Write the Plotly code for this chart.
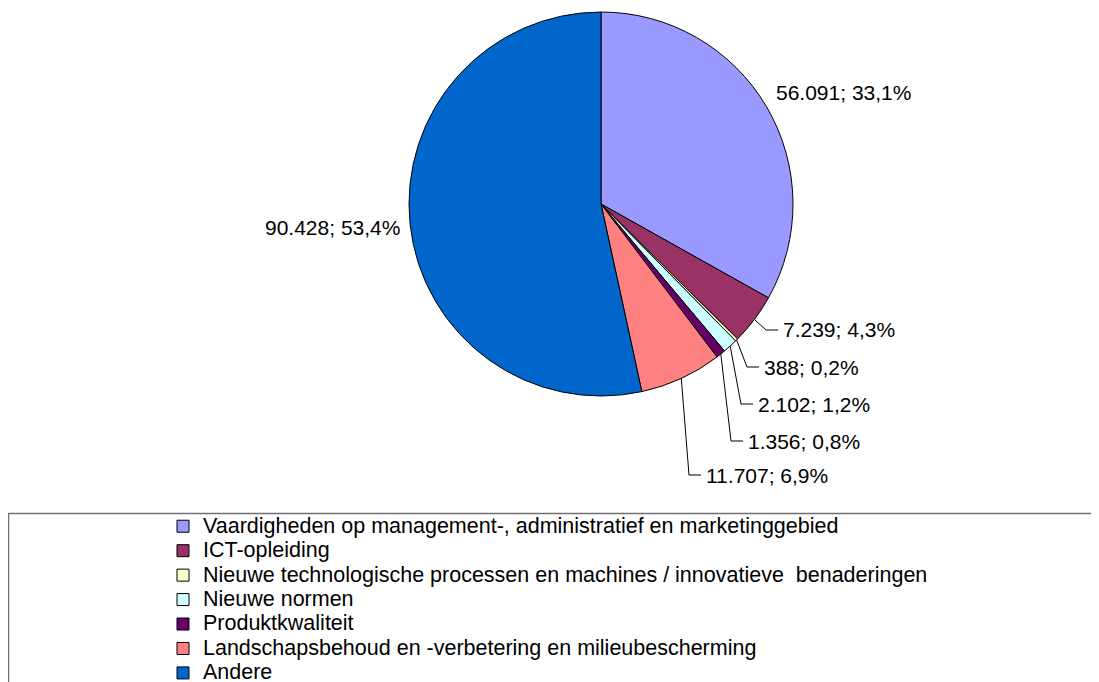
import math
import plotly.graph_objects as go

# data
categories = [
    "Vaardigheden op management-, administratief en marketinggebied",
    "ICT-opleiding",
    "Nieuwe technologische processen en machines / innovatieve  benaderingen",
    "Nieuwe normen",
    "Produktkwaliteit",
    "Landschapsbehoud en -verbetering en milieubescherming",
    "Andere",
]
values = [56091, 7239, 388, 2102, 1356, 11707, 90428]
colors = ["#9999FF", "#993366", "#FFFFCC", "#CCFFFF", "#660066", "#FF8080", "#0066CC"]

# page has an 8px body margin, so the figure is a bit smaller than the window
OFF = 8
W, H = 1099 - OFF, 682 - OFF
PIE_CX, PIE_CY, PIE_R = 601, 204, 192  # in window pixels
FONT = "Liberation Sans, Arial, sans-serif"

# label placement in window pixels (left edge / middle)
label_pos = [(774, 93), (781, 330), (762, 367), (756, 404), (746, 441), (704, 475), (402, 227)]
has_line = [False, True, True, True, True, True, False]


def px(x, y):
    return (x - OFF) / W, 1 - (y - OFF) / H


def nl_number(v):
    return f"{v:,}".replace(",", ".")


def nl_pct(v, total):
    return f"{100 * v / total:.1f}".replace(".", ",") + "%"


total = sum(values)
dx0, dy0 = px(PIE_CX - PIE_R, PIE_CY + PIE_R)
dx1, dy1 = px(PIE_CX + PIE_R, PIE_CY - PIE_R)

fig = go.Figure(go.Pie(
    labels=[f'<span style="font-size:21.5px">{c}</span>' for c in categories],
    values=values,
    sort=False,
    direction="clockwise",
    rotation=0,
    textinfo="none",
    hoverinfo="skip",
    marker=dict(colors=colors, line=dict(color="black", width=1)),
    domain=dict(x=[dx0, dx1], y=[dy0, dy1]),
))

cum = 0
for i, v in enumerate(values):
    mid = (cum + v / 2) / total * 2 * math.pi
    cum += v
    lx, ly = label_pos[i]
    text = f"{nl_number(v)}; {nl_pct(v, total)}"
    anchor = "right" if i == len(values) - 1 else "left"
    ax, ay = px(lx, ly)
    fig.add_annotation(x=ax, y=ay, xref="paper", yref="paper", text=text,
                       showarrow=False, xanchor=anchor, yanchor="middle",
                       font=dict(family=FONT, size=21, color="black"))
    if has_line[i]:
        ex = PIE_CX + PIE_R * math.sin(mid)
        ey = PIE_CY - PIE_R * math.cos(mid)
        p0 = px(ex, ey)
        p1 = px(lx - 15, ly)
        p2 = px(lx - 3, ly)
        fig.add_shape(type="path", xref="paper", yref="paper",
                      path=f"M{p0[0]},{p0[1]} L{p1[0]},{p1[1]} L{p2[0]},{p2[1]}",
                      line=dict(color="black", width=1))

# legend frame (runs off the bottom and right like the original)
fx0, fy1 = px(8.5, 513.5)
fig.add_shape(type="rect", xref="paper", yref="paper",
              x0=fx0, x1=1.02, y0=-0.05, y1=fy1,
              line=dict(color="#707070", width=1.5))

lgx, lgy = px(163, 509)
fig.update_layout(
    width=W, height=H,
    margin=dict(l=0, r=0, t=0, b=0, autoexpand=False),
    paper_bgcolor="white",
    plot_bgcolor="white",
    font=dict(family=FONT, color="black"),
    legend=dict(x=lgx, y=lgy, xanchor="left", yanchor="top",
                font=dict(family=FONT, size=16.5, color="black"),
                bgcolor="rgba(0,0,0,0)", borderwidth=0),
)

fig.write_html("out.html")
